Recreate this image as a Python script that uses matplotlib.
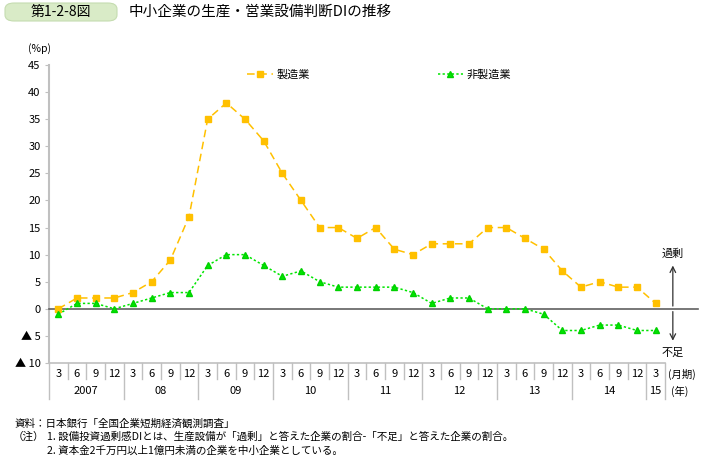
import matplotlib

matplotlib.use("Agg")
import matplotlib.pyplot as plt
import matplotlib.transforms as mtransforms
from matplotlib.patches import FancyBboxPatch

plt.rcParams["font.family"] = ["Noto Sans CJK JP", "DejaVu Sans"]

years = ["2007", "08", "09", "10", "11", "12", "13", "14", "15"]
quarters_per_year = [4, 4, 4, 4, 4, 4, 4, 4, 1]
months = ["3", "6", "9", "12"]

manufacturing = [0, 2, 2, 2, 3, 5, 9, 17, 35, 38, 35, 31, 25, 20, 15, 15,
                 13, 15, 11, 10, 12, 12, 12, 15, 15, 13, 11, 7, 4, 5, 4, 4, 1]
non_manufacturing = [-1, 1, 1, 0, 1, 2, 3, 3, 8, 10, 10, 8, 6, 7, 5, 4,
                     4, 4, 4, 3, 1, 2, 2, 0, 0, 0, -1, -4, -4, -3, -3, -4, -4]

y_ticks = list(range(-10, 50, 5))
y_tick_labels = [("▲ " + str(-v)) if v < 0 else str(v) for v in y_ticks]

W, H = 706, 465
fig = plt.figure(figsize=(W / 100, H / 100), dpi=100)

# plot area in pixels
left_px, right_px, top_px, bottom_px = 49, 665, 65, 363
ax = fig.add_axes([left_px / W, 1 - bottom_px / H,
                   (right_px - left_px) / W, (bottom_px - top_px) / H])

n = len(manufacturing)
x = list(range(n))
ax.set_xlim(-0.5, n - 0.5)
ax.set_ylim(-10, 45)

l1, = ax.plot(x, manufacturing, color="#FFC000", lw=1.1, ls=(0, (5, 3)),
              marker="s", ms=4.8, mec="#FFC000", mfc="#FFC000", label="製造業", zorder=4)
l2, = ax.plot(x, non_manufacturing, color="#00E600", lw=1.1, ls=(0, (1.5, 1.5)),
              marker="^", ms=5, mec="#00D000", mfc="#00E600", label="非製造業", zorder=4)

for s in ["top", "right", "bottom"]:
    ax.spines[s].set_visible(False)
ax.spines["left"].set_color("#c0c0c0")
ax.spines["left"].set_linewidth(1.5)

ax.set_yticks(y_ticks)
ax.set_yticklabels(y_tick_labels, fontsize=8)
ax.tick_params(axis="y", length=3, color="#c0c0c0", pad=3)
ax.set_xticks([])

# zero line extending past the plot area
ax.plot([-0.5, n + 1.26], [0, 0], color="#606060", lw=1.2, clip_on=False, zorder=3)

# category table under the axis
trans = mtransforms.blended_transform_factory(ax.transData, ax.transAxes)
h_ax = (bottom_px - top_px)
month_y = -(374 - bottom_px) / h_ax
year_y = -(391 - bottom_px) / h_ax
sep_short = -(379 - bottom_px) / h_ax
sep_long = -(399 - bottom_px) / h_ax

ax.plot([-0.5, n - 0.5], [0, 0], transform=trans, color="#c0c0c0", lw=1.2, clip_on=False)
i = 0
for yr, q in zip(years, quarters_per_year):
    ax.plot([i - 0.5, i - 0.5], [0, sep_long], transform=trans,
            color="#c0c0c0", lw=1, clip_on=False)
    for k in range(q):
        ax.text(i + k, month_y, months[k], transform=trans, ha="center", va="center", fontsize=8)
        if k > 0:
            ax.plot([i + k - 0.5, i + k - 0.5], [0, sep_short], transform=trans,
                    color="#c0c0c0", lw=1, clip_on=False)
    ax.text(i + (q - 1) / 2, year_y, yr, transform=trans, ha="center", va="center", fontsize=8)
    i += q
ax.plot([n - 0.5, n - 0.5], [0, sep_long], transform=trans, color="#c0c0c0", lw=1, clip_on=False)

ax.text(n - 0.35, month_y, "(月期)", transform=trans, ha="left", va="center", fontsize=7.5)
ax.text(n - 0.2, year_y, "(年)", transform=trans, ha="left", va="center", fontsize=7.5)

# over / shortage arrows
ax_x = n - 0.08
ax.annotate("", xy=(ax_x, 8.5), xytext=(ax_x, 0),
            arrowprops=dict(arrowstyle="->", color="#303030", lw=0.9), annotation_clip=False)
ax.annotate("", xy=(ax_x, -6.4), xytext=(ax_x, 0),
            arrowprops=dict(arrowstyle="->", color="#303030", lw=0.9), annotation_clip=False)
ax.text(ax_x, 9.2, "過剰", ha="center", va="bottom", fontsize=8, clip_on=False)
ax.text(ax_x, -7.2, "不足", ha="center", va="top", fontsize=8, clip_on=False)

ax.text(-1.0, 47, "(%p)", ha="center", va="bottom", fontsize=7.5, clip_on=False)

fig.legend(handles=[l1, l2], loc="center left", bbox_to_anchor=(247 / W, 1 - 75 / H),
           ncol=2, frameon=False, fontsize=8, borderpad=0, borderaxespad=0,
           columnspacing=11.5, handlelength=2.3, handletextpad=0.35)

# title
box = FancyBboxPatch((5 / W, 1 - 21 / H), 112 / W, 18 / H,
                     boxstyle="round,pad=0,rounding_size=0.013",
                     transform=fig.transFigure, fc="#d9ebc7", ec="#c5dcb0", lw=0.8)
fig.patches.append(box)
fig.text(61 / W, 1 - 12 / H, "第1-2-8図", ha="center", va="center", fontsize=10)
fig.text(129 / W, 1 - 12 / H, "中小企業の生産・営業設備判断DIの推移", ha="left", va="center", fontsize=10.5)

# notes
fig.text(15 / W, 1 - 424 / H, "資料：日本銀行「全国企業短期経済観測調査」", fontsize=7.6, va="center")
fig.text(13 / W, 1 - 437 / H, "（注）", fontsize=7.6, va="center")
fig.text(47 / W, 1 - 437 / H,
         "1. 設備投資過剰感DIとは、生産設備が「過剰」と答えた企業の割合-「不足」と答えた企業の割合。",
         fontsize=7.6, va="center")
fig.text(47 / W, 1 - 451 / H, "2. 資本金2千万円以上1億円未満の企業を中小企業としている。",
         fontsize=7.6, va="center")

fig.savefig("out.png", dpi=100)
